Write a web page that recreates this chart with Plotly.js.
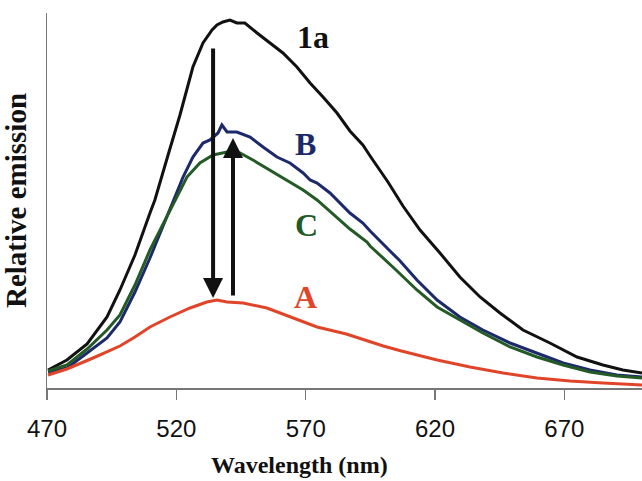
<!DOCTYPE html>
<html>
<head>
<meta charset="utf-8">
<script src="https://cdn.plot.ly/plotly-3.0.1.min.js"></script>
<style>html,body{margin:0;padding:0;background:#fff;}#chart{width:642px;height:481px;}</style>
</head>
<body>
<div id="chart"></div>
<script>
// Wavelength (nm) and relative emission readings for each spectrum
const wl1a = [470.4,477.7,485.5,493.2,498.2,504.0,509.8,511.7,516.8,521.4,526.4,530.3,533.8,535.7,538.0,540.7,543.4,546.5,551.2,556.2,561.2,566.6,571.7,576.7,582.1,587.1,592.1,594.9,601.8,607.6,614.2,621.9,629.6,637.4,645.1,654.0,664.4,674.9,684.9,692.6,700.0];
const em1a = [18,28,44,71,98,133,175,188,233,273,321,345,358,363,366,368,365,365,355,345,335,321,305,291,275,257,243,232,206,182,158,135,111,91,75,58,45,31,23,18,15];

const wlB = [470.4,477.7,485.5,493.2,498.2,504.0,509.8,513.7,518.7,522.6,526.4,530.3,533.0,536.1,537.6,539.6,543.4,548.5,553.5,558.9,563.9,569.0,571.7,574.4,579.4,582.1,587.1,592.1,594.9,602.6,606.5,613.0,620.8,629.6,638.5,649.0,659.4,669.5,679.9,690.3,700.0];
const emB = [16,20,35,50,66,96,130,155,188,211,231,245,248,255,263,256,256,251,241,231,225,215,208,205,195,188,175,165,157,137,127,108,88,71,58,45,35,25,18,13,11];

const wlC = [470.4,477.7,485.5,493.2,498.2,504.0,509.8,519.5,524.1,529.1,534.2,539.6,544.6,549.6,556.2,562.8,569.0,574.4,584.4,587.1,593.7,594.9,604.5,613.0,620.8,629.6,638.5,649.0,659.4,669.5,679.9,690.3,700.0];
const emC = [17,23,39,58,73,103,138,188,211,225,233,236,235,228,218,208,198,188,165,159,146,142,119,98,81,68,55,41,31,23,16,12,10];

const wlA = [470.4,477.7,487.8,493.2,498.2,504.0,509.8,517.5,525.3,531.8,535.7,539.6,545.8,555.0,563.9,574.4,585.7,593.7,600.0,607.0,620.8,633.5,646.3,659.4,672.2,684.9,700.0];
const emA = [13,19,30,36,42,51,61,71,80,86,88,86,85,80,71,61,54,47,42,37,28,21,15,10,7,5,3];

const xTicks = [470,520,570,620,670];
const seriesNames = ['1a','B','C','A'];

const traces = [
  {x: wl1a, y: em1a, name: '1a', mode: 'lines', line: {color: '#111111', width: 3}},
  {x: wlB, y: emB, name: 'B', mode: 'lines', line: {color: '#1c2a6c', width: 3}},
  {x: wlC, y: emC, name: 'C', mode: 'lines', line: {color: '#245a26', width: 3}},
  {x: wlA, y: emA, name: 'A', mode: 'lines', line: {color: '#e0452a', width: 3}}
];

const serif = 'Liberation Serif, Times New Roman, serif';
const lblFont = (c) => ({family: serif, size: 32, color: c});

const layout = {
  width: 642, height: 481,
  margin: {l: 47, r: 0, t: 13, b: 93},
  paper_bgcolor: '#ffffff', plot_bgcolor: '#ffffff',
  showlegend: false,
  xaxis: {
    range: [470, 700], showgrid: false, zeroline: false,
    showline: true, linecolor: '#777777', linewidth: 1.5,
    ticks: 'outside', ticklen: 10, tickcolor: '#777777', tickwidth: 1.5,
    tickvals: xTicks, ticktext: xTicks.map(String),
    ticklabelstandoff: 9,
    tickfont: {family: 'Liberation Sans, Arial, sans-serif', size: 24, color: '#111111'},
    title: {text: ''}
  },
  yaxis: {
    range: [0, 375], showgrid: false, zeroline: false,
    showline: true, linecolor: '#777777', linewidth: 1.5,
    ticks: '', showticklabels: false,
    title: {text: '<b>Relative emission</b>', font: {family: serif, size: 29, color: '#111111'}, standoff: 12}
  },
  annotations: [
    {xref: 'paper', yref: 'paper', x: 0.425, y: -0.206, yanchor: 'middle', xanchor: 'center', showarrow: false,
     text: '<b>Wavelength (nm)</b>', font: {family: serif, size: 24, color: '#111111'}},
    {x: 572.8, y: 351, text: '<b>' + seriesNames[0] + '</b>', showarrow: false, font: lblFont('#111111')},
    {x: 570.1, y: 244, text: '<b>' + seriesNames[1] + '</b>', showarrow: false, font: lblFont('#1c2a6c')},
    {x: 570.5, y: 163, text: '<b>' + seriesNames[2] + '</b>', showarrow: false, font: lblFont('#245a26')},
    {x: 570.1, y: 91, text: '<b>' + seriesNames[3] + '</b>', showarrow: false, font: lblFont('#e0452a')},
    {x: 534.2, y: 90, ax: 534.2, ay: 341, axref: 'x', ayref: 'y', xref: 'x', yref: 'y', text: '', showarrow: true, arrowhead: 2, arrowsize: 1, arrowwidth: 4, arrowcolor: '#111111'},
    {x: 541.9, y: 250, ax: 541.9, ay: 91, axref: 'x', ayref: 'y', xref: 'x', yref: 'y', text: '', showarrow: true, arrowhead: 2, arrowsize: 1, arrowwidth: 4, arrowcolor: '#111111'}
  ]
};

Plotly.newPlot('chart', traces, layout, {displayModeBar: false, staticPlot: true});
</script>
</body>
</html>
